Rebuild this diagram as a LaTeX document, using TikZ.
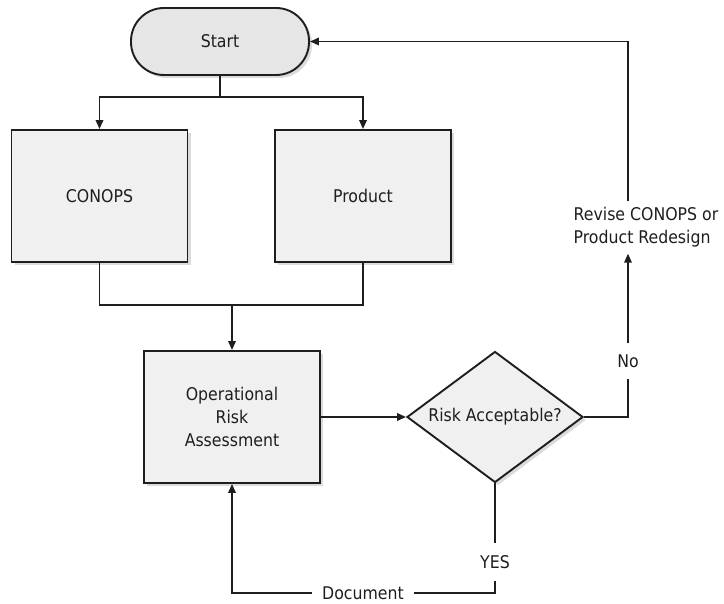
\documentclass[tikz,border=0pt]{standalone}
\usepackage{fontspec}
\setmainfont{DejaVu Sans Condensed}
\usetikzlibrary{arrows.meta,shapes.geometric,shadows}
\definecolor{boxfill}{HTML}{F0F0F0}
\definecolor{startfill}{HTML}{E6E6E6}
\definecolor{ink}{HTML}{1E1E1E}
\tikzset{
  base/.style={draw=ink, line width=1.9pt, text=ink, align=center, inner sep=0pt,
    drop shadow={fill=black!14, opacity=1, shadow xshift=3pt, shadow yshift=-3pt}},
  terminal/.style={base, fill=startfill, rectangle, rounded corners=33pt, minimum width=178pt, minimum height=67pt},
  process/.style={base, fill=boxfill, rectangle, minimum width=176pt, minimum height=132pt},
  decision/.style={base, fill=boxfill, diamond, aspect=1.34, minimum width=176pt, minimum height=131pt},
  lbl/.style={text=ink, inner sep=0pt},
  conn/.style={draw=ink, line width=1.8pt},
  arr/.style={conn, -{Triangle[length=9pt,width=7.5pt]}},
}
\begin{document}
\begin{tikzpicture}[x=1pt, y=-1pt, font=\fontsize{17.5}{23}\selectfont]
\useasboundingbox (0,0) rectangle (724,604);
\node[terminal] (start) at (220,41.5) {Start};
\node[process] (conops) at (99.5,196) {CONOPS};
\node[process] (product) at (363,196) {Product};
\node[process] (ora) at (232,417) {Operational\\Risk\\Assessment};
\node[decision] (dia) at (495,417) {Risk Acceptable?};
\node[lbl, inner ysep=11pt] (no) at (628,361) {No};
\node[lbl, align=left, inner ysep=6pt] (revise) at (646,227.5) {Revise CONOPS or\\Product Redesign};
\node[lbl, inner ysep=12pt] (yes) at (495,562) {YES};
\node[lbl, inner xsep=10pt] (doc) at (363,593) {Document};
\coordinate (split) at (220,97);
\coordinate (merge) at (232,305);
\draw[conn] (start.south) -- (split);
\draw[arr] (split) -| (conops.north);
\draw[arr] (split) -| (product.north);
\draw[conn] (conops.south) |- (merge) -| (product.south);
\draw[arr] (merge) -- (ora.north);
\draw[arr] (ora.east) -- (dia.west);
\draw[conn] (dia.east) -| (no.south);
\draw[arr] (no.north) -- (no.north |- revise.south);
\draw[arr] (no.north |- revise.north) |- (start.east);
\draw[conn] (dia.south) -- (yes.north);
\draw[conn] (yes.south) |- (doc.east);
\draw[arr] (doc.west) -| (ora.south);
\end{tikzpicture}
\end{document}
